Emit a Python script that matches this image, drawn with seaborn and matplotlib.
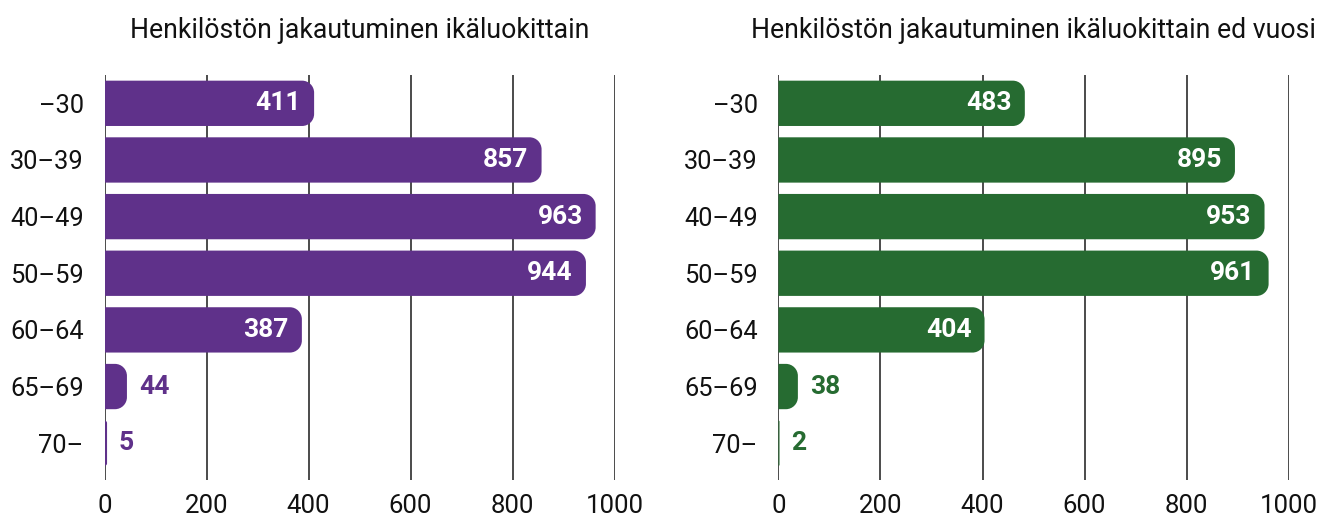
import matplotlib
matplotlib.use("Agg")
import matplotlib.pyplot as plt
import seaborn as sns
import pandas as pd
from matplotlib.path import Path
from matplotlib.patches import PathPatch

# Data
ikaluokat = ["–30", "30–39", "40–49", "50–59", "60–64", "65–69", "70–"]
henkilosto = [411, 857, 963, 944, 387, 44, 5]
henkilosto_ed = [483, 895, 953, 961, 404, 38, 2]
otsikot = ["Henkilöstön jakautuminen ikäluokittain",
           "Henkilöstön jakautuminen ikäluokittain ed vuosi"]
varit = ["#5f318a", "#266b31"]
x_tikit = [0, 200, 400, 600, 800, 1000]

sns.set_theme(style="white")
plt.rcParams["font.family"] = ["Roboto", "DejaVu Sans"]


def pyorista(ax, vari, r_px=12):
    # korvataan palkit paloilla joiden oikea pää on pyöristetty
    bbox = ax.get_window_extent()
    x0l, x1l = ax.get_xlim()
    y0l, y1l = ax.get_ylim()
    sx = bbox.width / abs(x1l - x0l)
    sy = bbox.height / abs(y1l - y0l)
    k = 0.5523
    for p in list(ax.patches):
        x0, y0 = p.get_x(), p.get_y()
        w, h = p.get_width(), p.get_height()
        x1, y1 = x0 + w, y0 + h
        r = min(r_px, w * sx, h * sy / 2)
        rx, ry = r / sx, r / sy
        verts = [(x0, y0), (x1 - rx, y0),
                 (x1 - rx + k * rx, y0), (x1, y0 + ry - k * ry), (x1, y0 + ry),
                 (x1, y1 - ry),
                 (x1, y1 - ry + k * ry), (x1 - rx + k * rx, y1), (x1 - rx, y1),
                 (x0, y1), (x0, y0)]
        codes = [Path.MOVETO, Path.LINETO,
                 Path.CURVE4, Path.CURVE4, Path.CURVE4,
                 Path.LINETO,
                 Path.CURVE4, Path.CURVE4, Path.CURVE4,
                 Path.LINETO, Path.CLOSEPOLY]
        p.remove()
        ax.add_patch(PathPatch(Path(verts, codes), facecolor=vari, lw=0, zorder=2))


fig = plt.figure(figsize=(13.3, 5.16), dpi=100)
paikat = [104.5 / 1330, 778.5 / 1330]

for i, (arvot, otsikko, vari) in enumerate(zip([henkilosto, henkilosto_ed], otsikot, varit)):
    ax = fig.add_axes([paikat[i], 36 / 516, 510 / 1330, 405 / 516])
    df = pd.DataFrame({"Ikäluokka": ikaluokat, "Henkilöitä": arvot})
    sns.barplot(data=df, x="Henkilöitä", y="Ikäluokka", orient="h", color=vari,
                saturation=1, width=0.8, ax=ax)
    ax.set_xlim(0, 1000)
    ax.set_ylim(6.65, -0.5)
    ax.set_xticks(x_tikit)
    ax.set_axisbelow(True)
    ax.xaxis.grid(True, color="#1a1a1a", lw=1.1)
    ax.yaxis.grid(False)
    sns.despine(ax=ax, left=True, bottom=True)
    ax.tick_params(axis="x", length=0, pad=10, labelsize=18.5, labelcolor="#111111")
    ax.tick_params(axis="y", length=0, pad=15, labelsize=18.3, labelcolor="#111111")
    ax.set_xlabel("")
    ax.set_ylabel("")
    ax.set_title(otsikko, fontsize=19.2, pad=27, color="#111111")
    pyorista(ax, vari)

    for j, v in enumerate(arvot):
        if v > 100:
            ax.annotate(str(v), (v, j), xytext=(-13, 0), textcoords="offset pixels",
                        ha="right", va="center", color="white",
                        fontsize=19, fontweight="bold")
        else:
            ax.annotate(str(v), (v, j), xytext=(12, 0), textcoords="offset pixels",
                        ha="left", va="center", color=vari,
                        fontsize=19, fontweight="bold")

fig.savefig("out.png", dpi=100)
